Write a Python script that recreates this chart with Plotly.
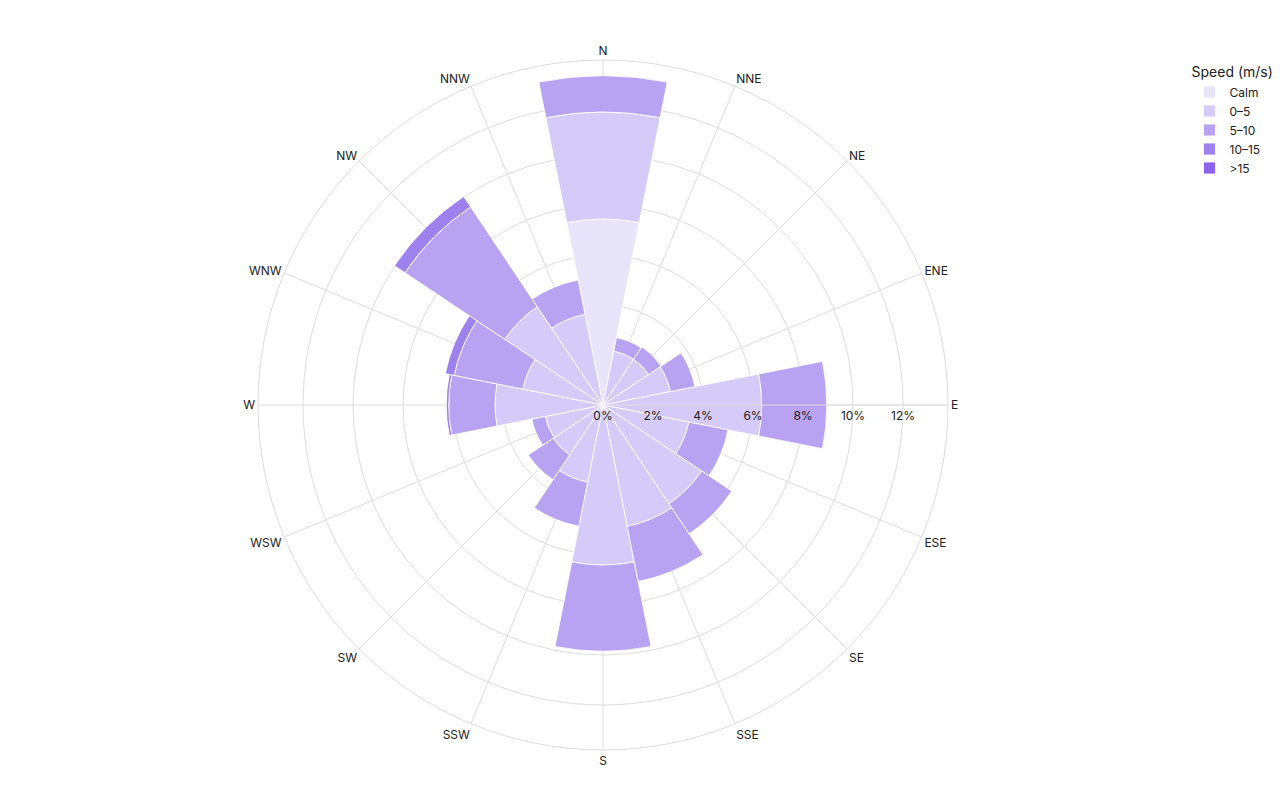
import plotly.graph_objects as go

directions = ["N", "NNE", "NE", "ENE", "E", "ESE", "SE", "SSE",
              "S", "SSW", "SW", "WSW", "W", "WNW", "NW", "NNW"]

speed_bins = ["Calm", "0\u20135", "5\u201310", "10\u201315", ">15"]

calm =      [7.44, 0, 0, 0, 0, 0, 0, 0, 0, 0, 0, 0, 0, 0, 0, 0]
s0_5 =      [4.28, 2.2, 2.2, 2.75, 6.35, 3.5, 4.75, 4.95, 6.4, 3.15, 2.4, 2.35, 4.32, 3.27, 4.73, 3.7]
s5_10 =     [1.45, 0.55, 0.6, 1.0, 2.6, 1.6, 1.45, 2.25, 3.45, 1.8, 1.2, 0.55, 1.85, 2.8, 4.8, 1.4]
s10_15 =    [0, 0, 0, 0, 0, 0, 0, 0, 0, 0, 0, 0, 0.1, 0.36, 0.5, 0]
s15_plus =  [0, 0, 0, 0, 0, 0, 0, 0, 0, 0, 0, 0, 0, 0, 0, 0]

series = [calm, s0_5, s5_10, s10_15, s15_plus]
colors = ["#e8e4fa", "#d4cbf8", "#b8a3f3", "#9d81ed", "#8b62ee"]

fig = go.Figure()
for name, vals, col in zip(speed_bins, series, colors):
    fig.add_trace(go.Barpolar(
        r=vals, theta=directions, name=name,
        marker=dict(color=col, line=dict(color="rgba(255,255,255,0.85)", width=1)),
    ))

fig.update_layout(
    width=1280, height=800,
    margin=dict(l=100, r=174, t=60, b=50, autoexpand=False),
    paper_bgcolor="white",
    font=dict(family="Inter, Roboto, sans-serif", size=12, color="#222"),
    polar=dict(
        bgcolor="white",
        barmode="stack",
        bargap=0,
        radialaxis=dict(
            range=[0, 13.8], dtick=2, ticksuffix="%", angle=0,
            showline=True, linecolor="#dddddd", gridcolor="#dddddd",
            ticks="", tickfont=dict(size=12, color="#222"),
        ),
        angularaxis=dict(
            rotation=90, direction="clockwise",
            linecolor="#dddddd", gridcolor="#dddddd", ticks="",
            tickfont=dict(size=12, color="#222"),
        ),
    ),
    legend=dict(
        title=dict(text="Speed (m/s)", font=dict(size=14)),
        x=1.083, xanchor="left", y=1.001, yanchor="top",
        font=dict(size=12),
    ),
)

fig.write_html("out.html")
